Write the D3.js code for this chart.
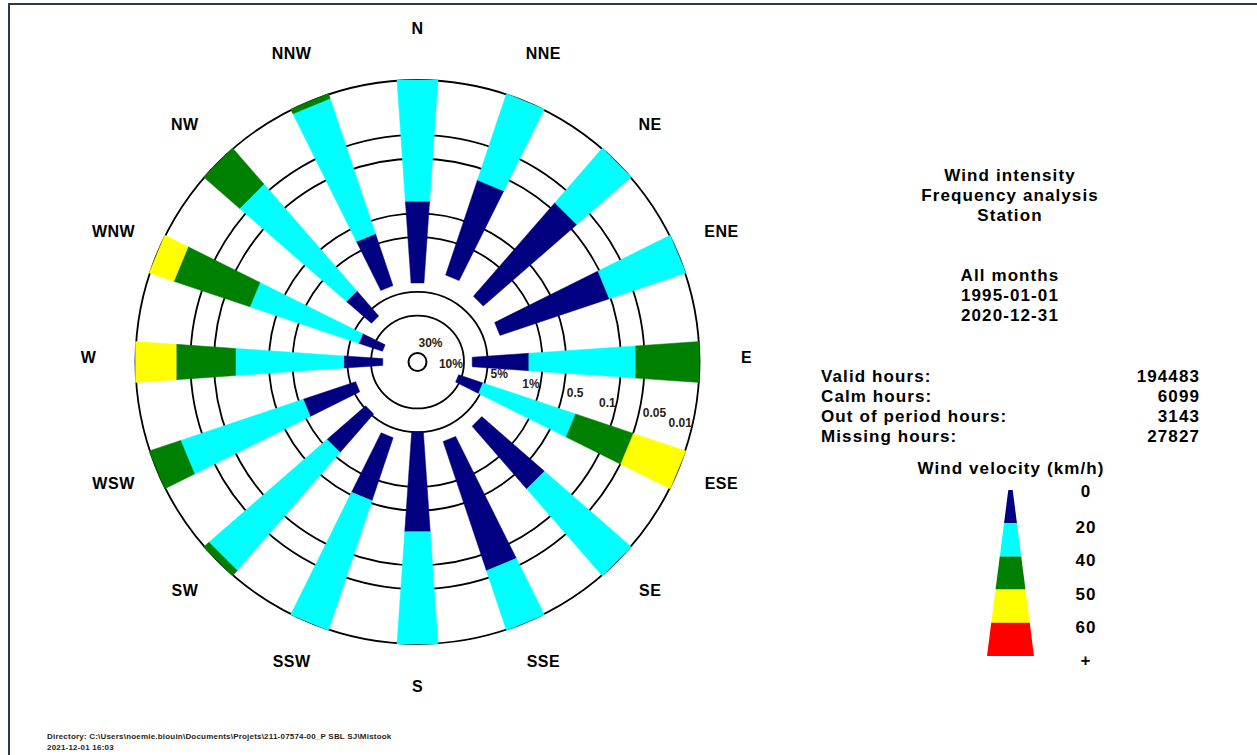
<!DOCTYPE html>
<html>
<head>
<meta charset="utf-8">
<script src="https://cdn.jsdelivr.net/npm/d3@7"></script>
<style>
  html, body { margin: 0; padding: 0; background: #ffffff; }
  svg { display: block; font-family: Arial, "Liberation Sans", sans-serif; }
</style>
</head>
<body>
<svg id="chart" width="1257" height="755"></svg>
<script>
// Wind directions, clockwise from north
const directions = ["N","NNE","NE","ENE","E","ESE","SE","SSE","S","SSW","SW","WSW","W","WNW","NW","NNW"];

// Frequency (% of valid hours) of wind from each direction exceeding each speed.
// 0 means below the lowest plotted level (0.01 %).
const pctOver0  = [3.85, 2.70, 3.13, 3.10, 7.85, 11.1, 3.32, 3.39, 5.05, 3.81, 5.36, 5.85, 14.1, 13.4, 6.72, 3.74];
const pctOver20 = [0.35, 0.144, 0.083, 0.106, 1.49, 5.24, 0.291, 0.063, 0.269, 0.546, 1.20, 1.16, 4.50, 6.45, 2.55, 0.753];
const pctOver40 = [0, 0, 0, 0, 0.065, 0.30, 0, 0, 0, 0, 0.0123, 0.0264, 0.188, 0.224, 0.0404, 0.0116];
const pctOver50 = [0, 0, 0, 0, 0, 0.0504, 0, 0, 0, 0, 0, 0, 0.033, 0.0214, 0, 0];
const pctOver60 = [0, 0, 0, 0, 0, 0, 0, 0, 0, 0, 0, 0, 0, 0, 0, 0];

// Velocity classes (km/h) and their colours
const speedLabels = ["0", "20", "40", "50", "60", "+"];
const classColors = ["#000080", "#00ffff", "#008000", "#ffff00", "#ff0000"];

// Frequency rings
const ringValues = [30, 10, 5, 1, 0.5, 0.1, 0.05, 0.01];
const ringLabels = ["30%", "10%", "5%", "1%", "0.5", "0.1", "0.05", "0.01"];

// Side panel text
const titleLines  = ["Wind intensity", "Frequency analysis", "Station"];
const periodLines = ["All months", "1995-01-01", "2020-12-31"];
const statNames   = ["Valid hours:", "Calm hours:", "Out of period hours:", "Missing hours:"];
const statValues  = [194483, 6099, 3143, 27827];
const legendTitle = "Wind velocity (km/h)";
const footerLines = ["Directory: C:\\Users\\noemie.blouin\\Documents\\Projets\\211-07574-00_P SBL SJ\\Mistook",
                     "2021-12-01 16:03"];

const svg = d3.select("#chart");
const cx = 417.5, cy = 362;

// Page frame
svg.append("path")
  .attr("d", "M9,755V4H1257")
  .attr("fill", "none")
  .attr("stroke", "#2e3a46")
  .attr("stroke-width", 2);

// Scales: log frequency -> radius (high frequency near the centre), index -> angle
const rScale = d3.scaleLog().domain([30, 0.01]).range([9, 282]);
const rad = v => (v > 0.01 ? rScale(v) : rScale(0.01));
const angle = d3.scaleLinear().domain([0, directions.length]).range([0, 2 * Math.PI]);
const halfWidth = d3.scaleLinear().domain([0, 282]).range([1, 20.5]);

const rose = svg.append("g").attr("transform", `translate(${cx},${cy})`);

// Rings
rose.selectAll("circle.ring")
  .data(ringValues)
  .join("circle")
  .attr("class", "ring")
  .attr("r", d => rScale(d))
  .attr("fill", "none")
  .attr("stroke", "#000")
  .attr("stroke-width", (d, i) => (i === 0 ? 2 : 1.8));

// Bar segments: each velocity class spans from its exceedance level to the next one
const cumulative = directions.map((d, i) => [pctOver0[i], pctOver20[i], pctOver40[i], pctOver50[i], pctOver60[i], 0]);
const segments = [];
directions.forEach((dir, i) => {
  const edges = cumulative[i];
  for (let k = 0; k < 5; k++) {
    if (edges[k] > 0.01) {
      segments.push({ dir: i, cls: k, r0: rad(edges[k]), r1: rad(edges[k + 1]) });
    }
  }
});

function quad(s) {
  const a = angle(s.dir);
  const ux = Math.sin(a), uy = -Math.cos(a);   // radial unit vector
  const px = Math.cos(a), py = Math.sin(a);    // perpendicular
  const w0 = halfWidth(s.r0), w1 = halfWidth(s.r1);
  const pts = [
    [s.r0 * ux - w0 * px, s.r0 * uy - w0 * py],
    [s.r1 * ux - w1 * px, s.r1 * uy - w1 * py],
    [s.r1 * ux + w1 * px, s.r1 * uy + w1 * py],
    [s.r0 * ux + w0 * px, s.r0 * uy + w0 * py]
  ];
  return d3.line()(pts) + "Z";
}

rose.selectAll("path.seg")
  .data(segments)
  .join("path")
  .attr("class", "seg")
  .attr("d", quad)
  .attr("fill", d => classColors[d.cls])
  .attr("stroke", d => classColors[d.cls])
  .attr("stroke-width", 0.5);

// Ring labels, stepped down the right-hand side
rose.append("text")
  .attr("x", 1).attr("y", -15)
  .attr("font-size", 12).attr("font-weight", "bold").attr("fill", "#2a1d10")
  .text(ringLabels[0]);

ringValues.slice(1).forEach((v, j) => {
  const base = 6 + j * 9.8;
  const yc = base - 4;
  const rr = rScale(v);
  const xr = Math.sqrt(Math.max(rr * rr - yc * yc, 0));
  const inside = j % 2 === 0;
  rose.append("text")
    .attr("x", inside ? xr - 1 : xr + 4)
    .attr("y", base)
    .attr("text-anchor", inside ? "end" : "start")
    .attr("font-size", 12).attr("font-weight", "bold").attr("fill", "#2a1d10")
    .text(ringLabels[j + 1]);
});

// Direction labels
rose.selectAll("text.dir")
  .data(directions)
  .join("text")
  .attr("class", "dir")
  .attr("x", (d, i) => 329 * Math.sin(angle(i)))
  .attr("y", (d, i) => -5 - 329 * Math.cos(angle(i)) + 6)
  .attr("text-anchor", "middle")
  .attr("font-size", 16).attr("font-weight", "bold").attr("fill", "#000")
  .attr("letter-spacing", 0.5)
  .text(d => d);

// Side panel
const panel = svg.append("g")
  .attr("font-size", 17).attr("font-weight", "bold").attr("fill", "#000")
  .attr("letter-spacing", 1.1);

panel.selectAll("text.title")
  .data(titleLines)
  .join("text")
  .attr("class", "title")
  .attr("x", 1010).attr("y", (d, i) => 181 + i * 20)
  .attr("text-anchor", "middle")
  .text(d => d);

panel.selectAll("text.period")
  .data(periodLines)
  .join("text")
  .attr("class", "period")
  .attr("x", 1010).attr("y", (d, i) => 281 + i * 20)
  .attr("text-anchor", "middle")
  .text(d => d);

panel.selectAll("text.statName")
  .data(statNames)
  .join("text")
  .attr("class", "statName")
  .attr("x", 821).attr("y", (d, i) => 382 + i * 20)
  .text(d => d);

panel.selectAll("text.statValue")
  .data(statValues)
  .join("text")
  .attr("class", "statValue")
  .attr("x", 1200).attr("y", (d, i) => 382 + i * 20)
  .attr("text-anchor", "end")
  .text(d => d);

panel.append("text")
  .attr("x", 1011).attr("y", 474)
  .attr("text-anchor", "middle")
  .text(legendTitle);

// Velocity legend: tapered stack of colour bands
const legX = 1010.5;
const legY = d3.scaleLinear().domain([0, 5]).range([490, 656]);
const legW = d3.scaleLinear().domain([490, 656]).range([2.2, 23.5]);
const legend = svg.append("g");
classColors.forEach((c, k) => {
  const y0 = legY(k), y1 = legY(k + 1);
  legend.append("path")
    .attr("d", d3.line()([[legX - legW(y0), y0], [legX + legW(y0), y0], [legX + legW(y1), y1], [legX - legW(y1), y1]]) + "Z")
    .attr("fill", c);
});
panel.selectAll("text.speed")
  .data(speedLabels)
  .join("text")
  .attr("class", "speed")
  .attr("x", 1086).attr("y", (d, i) => legY(i) + (i === 0 ? 7 : 10))
  .attr("text-anchor", "middle")
  .text(d => d);

// Footer
svg.selectAll("text.footer")
  .data(footerLines)
  .join("text")
  .attr("class", "footer")
  .attr("x", 47).attr("y", (d, i) => 739 + i * 11)
  .attr("font-size", 8).attr("font-weight", "bold").attr("fill", "#2a1d10")
  .attr("letter-spacing", 0.2)
  .text(d => d);
</script>
</body>
</html>
